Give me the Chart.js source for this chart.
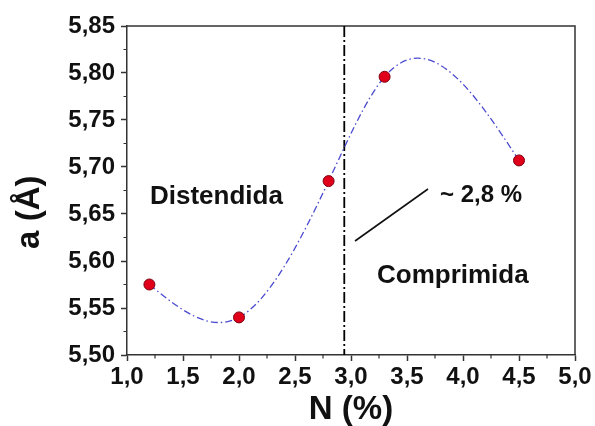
<!DOCTYPE html>
<html>
<head>
<meta charset="utf-8">
<script src="https://cdn.jsdelivr.net/npm/chart.js@4.4.1/dist/chart.umd.min.js"></script>
<style>
  html, body { margin: 0; padding: 0; background: #ffffff; }
  #wrap { width: 595px; height: 426px; }
</style>
</head>
<body>
<div id="wrap"><canvas id="chart" width="595" height="426"></canvas></div>
<script>
// Nitrogen content (%) and lattice parameter a (Å)
const nitrogen = [1.2, 2.0, 2.8, 3.3, 4.5];
const latticeA = [5.575, 5.540, 5.685, 5.796, 5.707];

// Axis ticks
const xTicks = [1.0, 1.5, 2.0, 2.5, 3.0, 3.5, 4.0, 4.5, 5.0];
const yTicks = [5.50, 5.55, 5.60, 5.65, 5.70, 5.75, 5.80, 5.85];

// Transition between tensile and compressive regions
const boundaryN = 2.94;

// Text annotations (data coordinates, alphabetic baseline)
const notes = [
  { text: 'Distendida', x: 1.205, y: 5.6603 },
  { text: 'Comprimida', x: 3.232, y: 5.5771 },
  { text: '~ 2,8 %',    x: 3.795, y: 5.6631 }
];
// Pointer line from the boundary towards the "~ 2,8 %" note
const pointer = { x0: 3.036, y0: 5.6213, x1: 3.6875, y1: 5.6766 };

const Y_TITLE = 'a (Å)';
const FONT = "'Liberation Sans', Arial, Helvetica, sans-serif";
const AXIS_COLOR = '#333333';

const comma = (v, d) => v.toFixed(d).replace('.', ',');

// Second derivatives of a natural cubic spline through (xs, ys)
function naturalSplineM(xs, ys) {
  const n = xs.length;
  const h = [], s = [];
  for (let i = 0; i < n - 1; i++) {
    h.push(xs[i + 1] - xs[i]);
    s.push((ys[i + 1] - ys[i]) / h[i]);
  }
  const a = new Array(n).fill(0), b = new Array(n).fill(1),
        c = new Array(n).fill(0), r = new Array(n).fill(0);
  for (let i = 1; i < n - 1; i++) {
    a[i] = h[i - 1];
    b[i] = 2 * (h[i - 1] + h[i]);
    c[i] = h[i];
    r[i] = 6 * (s[i] - s[i - 1]);
  }
  // Thomas algorithm
  for (let i = 1; i < n; i++) {
    const m = a[i] / b[i - 1];
    b[i] -= m * c[i - 1];
    r[i] -= m * r[i - 1];
  }
  const M = new Array(n).fill(0);
  M[n - 1] = r[n - 1] / b[n - 1];
  for (let i = n - 2; i >= 0; i--) M[i] = (r[i] - c[i] * M[i + 1]) / b[i];
  return { M, h, s };
}

const decorPlugin = {
  id: 'decor',
  beforeDatasetsDraw(chart) {
    const { ctx, chartArea, scales: { x, y } } = chart;
    const px = v => x.getPixelForValue(v);
    const py = v => y.getPixelForValue(v);

    // Frame: top and right edges
    ctx.save();
    ctx.strokeStyle = AXIS_COLOR;
    ctx.lineWidth = 1.5;
    ctx.beginPath();
    ctx.moveTo(chartArea.left, chartArea.top);
    ctx.lineTo(chartArea.right, chartArea.top);
    ctx.lineTo(chartArea.right, chartArea.bottom);
    ctx.stroke();

    // Minor ticks halfway between major ticks, pointing outwards
    ctx.lineWidth = 1.2;
    ctx.beginPath();
    for (let i = 0; i < xTicks.length - 1; i++) {
      const xm = px((xTicks[i] + xTicks[i + 1]) / 2);
      ctx.moveTo(xm, chartArea.bottom);
      ctx.lineTo(xm, chartArea.bottom + 3.5);
    }
    for (let i = 0; i < yTicks.length - 1; i++) {
      const ym = py((yTicks[i] + yTicks[i + 1]) / 2);
      ctx.moveTo(chartArea.left, ym);
      ctx.lineTo(chartArea.left - 3.5, ym);
    }
    ctx.stroke();

    // Vertical dash-dot boundary
    ctx.strokeStyle = '#000000';
    ctx.lineWidth = 1.8;
    ctx.setLineDash([11, 3, 2, 3]);
    ctx.beginPath();
    ctx.moveTo(px(boundaryN), chartArea.top);
    ctx.lineTo(px(boundaryN), chartArea.bottom);
    ctx.stroke();

    // Natural cubic spline through the measured points, as exact Bézier segments
    const { M, h, s } = naturalSplineM(nitrogen, latticeA);
    ctx.beginPath();
    ctx.rect(chartArea.left, chartArea.top, chartArea.width, chartArea.height);
    ctx.clip();
    ctx.strokeStyle = '#4b4bd0';
    ctx.lineWidth = 1.3;
    ctx.setLineDash([7, 3, 1.5, 3]);
    ctx.beginPath();
    ctx.moveTo(px(nitrogen[0]), py(latticeA[0]));
    for (let i = 0; i < nitrogen.length - 1; i++) {
      const d0 = s[i] - h[i] * (2 * M[i] + M[i + 1]) / 6;
      const d1 = s[i] + h[i] * (M[i] + 2 * M[i + 1]) / 6;
      ctx.bezierCurveTo(
        px(nitrogen[i] + h[i] / 3), py(latticeA[i] + d0 * h[i] / 3),
        px(nitrogen[i + 1] - h[i] / 3), py(latticeA[i + 1] - d1 * h[i] / 3),
        px(nitrogen[i + 1]), py(latticeA[i + 1])
      );
    }
    ctx.stroke();
    ctx.restore();
  },
  afterDraw(chart) {
    const { ctx, chartArea, scales: { x, y } } = chart;
    const px = v => x.getPixelForValue(v);
    const py = v => y.getPixelForValue(v);
    ctx.save();
    ctx.strokeStyle = '#111111';
    ctx.lineWidth = 1.6;
    ctx.beginPath();
    ctx.moveTo(px(pointer.x0), py(pointer.y0));
    ctx.lineTo(px(pointer.x1), py(pointer.y1));
    ctx.stroke();

    ctx.fillStyle = '#111111';
    ctx.textAlign = 'left';
    ctx.textBaseline = 'alphabetic';
    notes.forEach(n => {
      ctx.font = n.text.startsWith('~') ? `bold 24px ${FONT}` : `bold 26px ${FONT}`;
      ctx.fillText(n.text, px(n.x), py(n.y));
    });

    // Y axis title, rotated, sitting a little below the axis midpoint
    ctx.translate(29.5, chartArea.top + chartArea.height * 0.566);
    ctx.rotate(-Math.PI / 2);
    ctx.textAlign = 'center';
    ctx.textBaseline = 'middle';
    ctx.font = `bold 33px ${FONT}`;
    ctx.fillText(Y_TITLE, 0, 0);
    ctx.restore();
  }
};

new Chart(document.getElementById('chart'), {
  type: 'scatter',
  data: {
    datasets: [{
      label: 'a',
      data: nitrogen.map((n, i) => ({ x: n, y: latticeA[i] })),
      pointRadius: 5.5,
      pointHoverRadius: 5.5,
      pointBackgroundColor: '#e1001a',
      pointBorderColor: '#7a0010',
      pointBorderWidth: 1,
      showLine: false
    }]
  },
  options: {
    responsive: false,
    animation: false,
    devicePixelRatio: 1,
    layout: { padding: { top: 26, right: 20, left: 0, bottom: 0 } },
    plugins: { legend: { display: false }, tooltip: { enabled: false } },
    scales: {
      x: {
        type: 'linear',
        min: 1.0,
        max: 5.0,
        afterBuildTicks: sc => { sc.ticks = xTicks.map(v => ({ value: v })); },
        afterFit: sc => { sc.height = 71; },
        ticks: {
          callback: v => comma(v, 1),
          color: '#111111',
          font: { family: FONT, size: 24, weight: 'bold' },
          padding: 2,
          maxRotation: 0,
          autoSkip: false
        },
        grid: { drawOnChartArea: false, drawTicks: true, tickLength: 6, tickColor: AXIS_COLOR, tickWidth: 1.5 },
        border: { display: true, color: AXIS_COLOR, width: 1.5 },
        title: {
          display: true,
          text: 'N (%)',
          color: '#111111',
          font: { family: FONT, size: 33, weight: 'bold', lineHeight: 1 },
          padding: { top: 0, bottom: 0 }
        }
      },
      y: {
        type: 'linear',
        min: 5.50,
        max: 5.85,
        afterBuildTicks: sc => { sc.ticks = yTicks.map(v => ({ value: v })); },
        afterFit: sc => { sc.width = 127; },
        ticks: {
          callback: v => comma(v, 2),
          color: '#111111',
          font: { family: FONT, size: 24, weight: 'bold' },
          padding: 6,
          autoSkip: false
        },
        grid: { drawOnChartArea: false, drawTicks: true, tickLength: 6, tickColor: AXIS_COLOR, tickWidth: 1.5 },
        border: { display: true, color: AXIS_COLOR, width: 1.5 },
        title: { display: false }
      }
    }
  },
  plugins: [decorPlugin]
});
</script>
</body>
</html>
